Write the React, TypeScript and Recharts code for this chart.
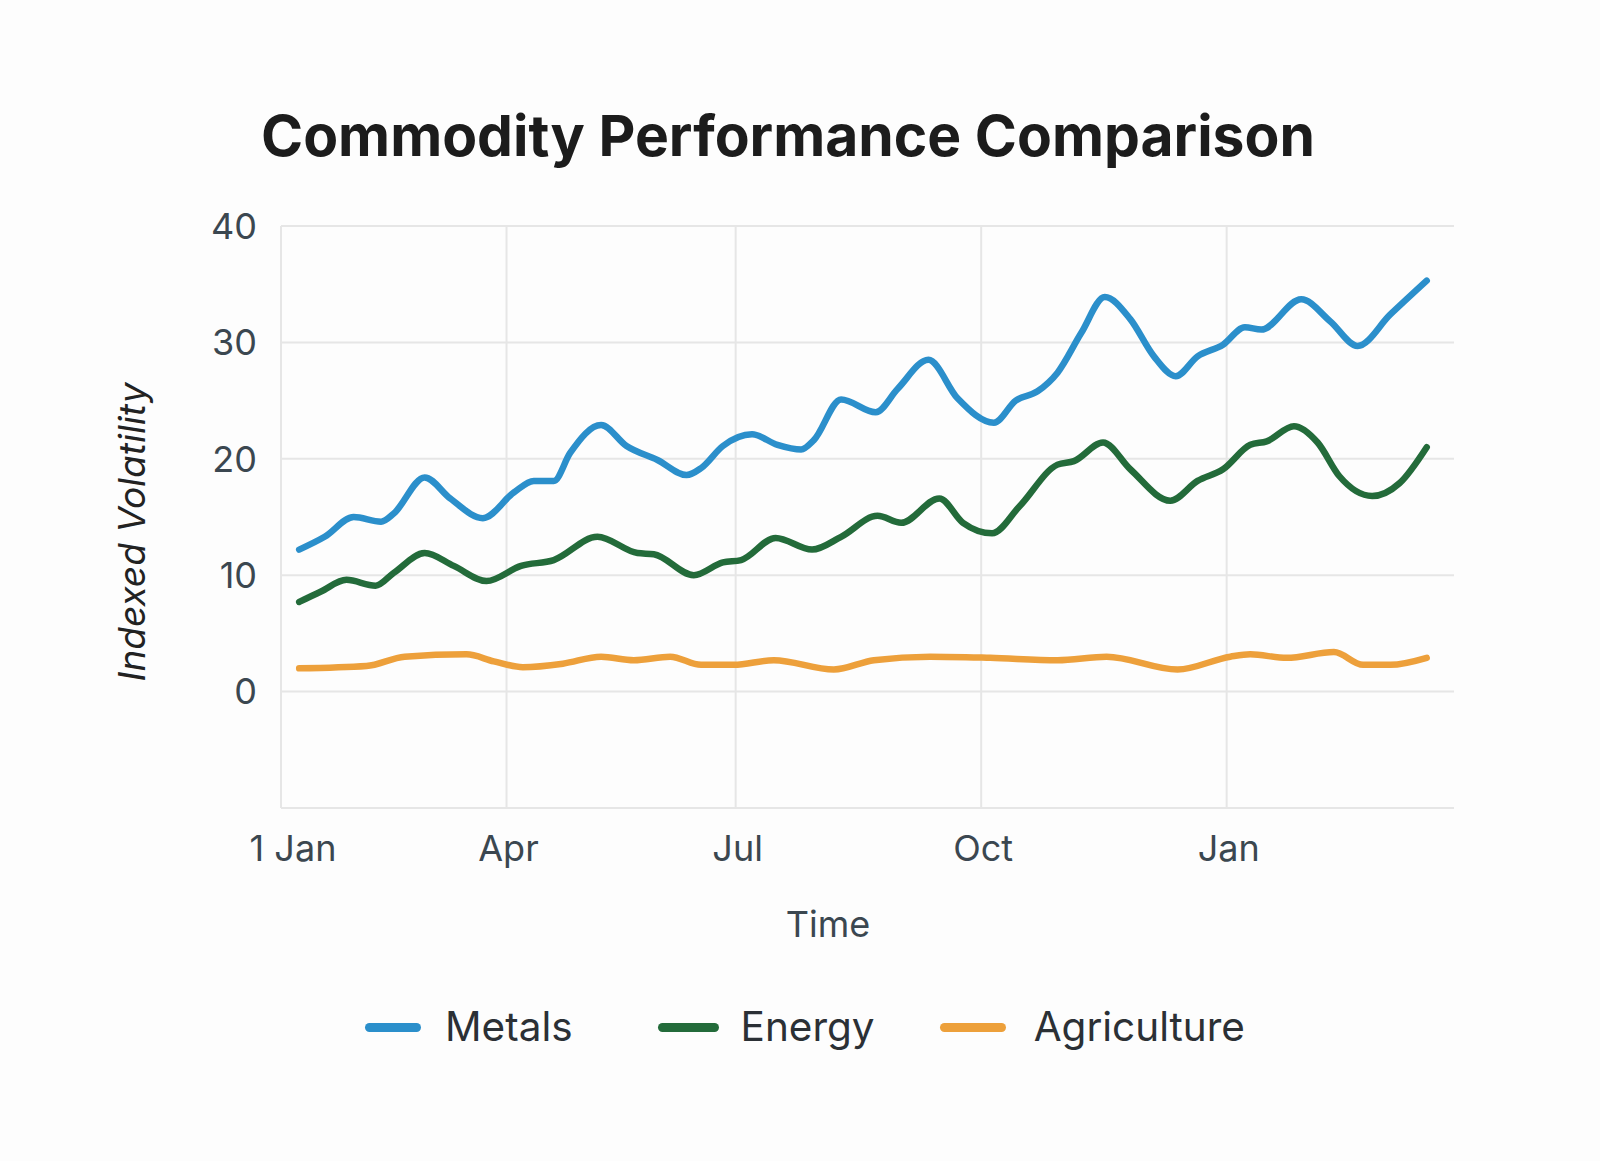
import React from 'react';
import { LineChart, Line, XAxis, YAxis, CartesianGrid, Legend, ReferenceLine } from 'recharts';

// x positions are weeks since 1 Jan
const metalsWeeks = [1.0, 2.4, 4.0, 5.5, 6.2, 7.9, 9.3, 11.1, 12.8, 13.9, 15.0, 15.9, 17.6, 19.0, 20.7, 22.3, 23.1, 24.3, 25.9, 27.3, 28.6, 29.3, 30.8, 32.7, 33.9, 35.6, 37.2, 39.2, 40.4, 41.6, 42.7, 44.0, 45.3, 46.7, 48.0, 49.2, 50.4, 51.8, 53.0, 53.9, 56.1, 57.7, 59.2, 61.0, 63.0];
const metalsValues = [12.2, 13.3, 15.0, 14.6, 15.3, 18.4, 16.6, 14.9, 17.1, 18.1, 18.1, 20.5, 22.9, 21.1, 19.9, 18.6, 19.2, 21.1, 22.1, 21.2, 20.8, 21.6, 25.1, 24.0, 26.0, 28.5, 25.2, 23.1, 25.0, 25.8, 27.4, 30.8, 33.9, 32.0, 28.8, 27.1, 28.8, 29.8, 31.3, 31.1, 33.7, 31.8, 29.7, 32.4, 35.3];

const energyWeeks = [1.0, 2.2, 3.6, 5.2, 6.2, 7.9, 9.5, 11.3, 13.2, 15.0, 17.4, 19.6, 20.5, 22.7, 24.3, 25.3, 27.2, 29.2, 30.8, 32.8, 34.1, 36.2, 37.5, 39.1, 40.6, 42.7, 43.6, 45.2, 46.7, 48.9, 50.4, 51.8, 53.3, 54.2, 55.7, 57.0, 58.2, 60.0, 61.5, 63.0];
const energyValues = [7.7, 8.6, 9.6, 9.1, 10.2, 11.9, 10.8, 9.5, 10.8, 11.3, 13.3, 11.9, 11.8, 10.0, 11.1, 11.3, 13.2, 12.2, 13.3, 15.1, 14.5, 16.6, 14.5, 13.6, 15.9, 19.5, 19.8, 21.4, 19.1, 16.4, 18.1, 19.1, 21.2, 21.5, 22.8, 21.4, 18.5, 16.8, 17.9, 21.0];

const agricultureWeeks = [1.0, 4.7, 6.8, 10.2, 11.7, 13.3, 15.5, 17.6, 19.4, 21.4, 23.1, 24.9, 27.1, 30.4, 32.6, 35.7, 39.0, 42.7, 45.4, 49.3, 52.2, 53.3, 55.3, 57.9, 59.5, 61.0, 63.0];
const agricultureValues = [2.0, 2.2, 3.0, 3.2, 2.6, 2.1, 2.4, 3.0, 2.7, 3.0, 2.3, 2.3, 2.7, 1.9, 2.7, 3.0, 2.9, 2.7, 3.0, 1.9, 3.0, 3.2, 2.9, 3.4, 2.3, 2.3, 2.9];

const xTicks = [0, 12.4, 25, 38.5, 52];
const xTickLabels = ['1 Jan', 'Apr', 'Jul', 'Oct', 'Jan'];
const yTicks = [-10, 0, 10, 20, 30, 40];

const FONT = 'Inter, "Noto Sans", sans-serif';
const AXIS_TEXT = '#3b4750';
const GRID = '#e6e6e6';

const toPoints = (weeks: number[], values: number[]) =>
    weeks.map((week, i) => ({ week, value: values[i] }));

const series = [
    { name: 'Metals', color: '#2b8fcb', data: toPoints(metalsWeeks, metalsValues), icon: 56, gap: 24, before: 0 },
    { name: 'Energy', color: '#236b3a', data: toPoints(energyWeeks, energyValues), icon: 61, gap: 22, before: 85 },
    { name: 'Agriculture', color: '#eda03b', data: toPoints(agricultureWeeks, agricultureValues), icon: 66, gap: 28, before: 65 },
];

const TimeTick = ({ x, y, payload }: any) => {
    const i = xTicks.indexOf(payload.value);
    return (
        <text x={x + (i === 0 ? 12 : 2)} y={y} dy="0.71em" textAnchor="middle" fill={AXIS_TEXT} fontSize={36} fontFamily={FONT}>
            {xTickLabels[i]}
        </text>
    );
};

const LegendContent = () => (
    <div style={{ display: 'flex', justifyContent: 'center', alignItems: 'center', paddingLeft: 10 }}>
        {series.map((s) => (
            <div key={s.name} style={{ display: 'flex', alignItems: 'center', marginLeft: s.before }}>
                <span style={{ display: 'inline-block', width: s.icon, height: 9, borderRadius: 5, background: s.color, marginRight: s.gap }} />
                <span style={{ fontSize: 40.5, color: '#2b3035', fontFamily: FONT, lineHeight: '48px' }}>{s.name}</span>
            </div>
        ))}
    </div>
);

export default function App() {
    return (
        <div style={{ position: 'absolute', left: 0, top: 0, width: 1600, height: 1161, background: '#fdfdfd' }}>
            <div style={{ position: 'absolute', top: 107, left: 0, width: 1576, textAlign: 'center', fontFamily: FONT, fontWeight: 700, fontSize: 57, lineHeight: '57px', color: '#1c1c1c' }}>
                Commodity Performance Comparison
            </div>
            <LineChart width={1600} height={1161} margin={{ top: 226, right: 146, bottom: 293, left: 0 }}>
                <CartesianGrid stroke={GRID} strokeWidth={2} vertical={false} />
                {/* month grid lines, no closing line on the right */}
                {xTicks.map((t) => (
                    <ReferenceLine key={t} x={t} stroke={GRID} strokeWidth={2} />
                ))}
                <XAxis
                    type="number"
                    dataKey="week"
                    domain={[0, 64.5]}
                    ticks={xTicks}
                    height={60}
                    axisLine={false}
                    tickLine={false}
                    tickSize={0}
                    tickMargin={27}
                    tick={<TimeTick />}
                    label={{
                        content: () => (
                            <text x={828} y={924} textAnchor="middle" dominantBaseline="central" fill={AXIS_TEXT} fontSize={36} fontFamily={FONT}>
                                Time
                            </text>
                        ),
                    }}
                />
                <YAxis
                    type="number"
                    domain={[-10, 40]}
                    ticks={yTicks}
                    width={281}
                    axisLine={false}
                    tickLine={false}
                    tickSize={0}
                    tickMargin={24}
                    tick={{ fill: AXIS_TEXT, fontSize: 36, fontFamily: FONT }}
                    tickFormatter={(v: number) => (v < 0 ? '' : String(v))}
                    label={{
                        content: () => (
                            <text x={131} y={532} transform="rotate(-90 131 532)" textAnchor="middle" dominantBaseline="central" fill="#222" fontSize={37} fontStyle="italic" fontFamily={FONT}>
                                Indexed Volatility
                            </text>
                        ),
                    }}
                />
                <Legend layout="horizontal" verticalAlign="middle" content={<LegendContent />} wrapperStyle={{ top: 1003, left: 0, width: 1600 }} />
                {series.map((s) => (
                    <Line
                        key={s.name}
                        data={s.data}
                        dataKey="value"
                        name={s.name}
                        type="monotone"
                        stroke={s.color}
                        strokeWidth={6.5}
                        strokeLinecap="round"
                        strokeLinejoin="round"
                        dot={false}
                        activeDot={false}
                        isAnimationActive={false}
                    />
                ))}
            </LineChart>
        </div>
    );
}
